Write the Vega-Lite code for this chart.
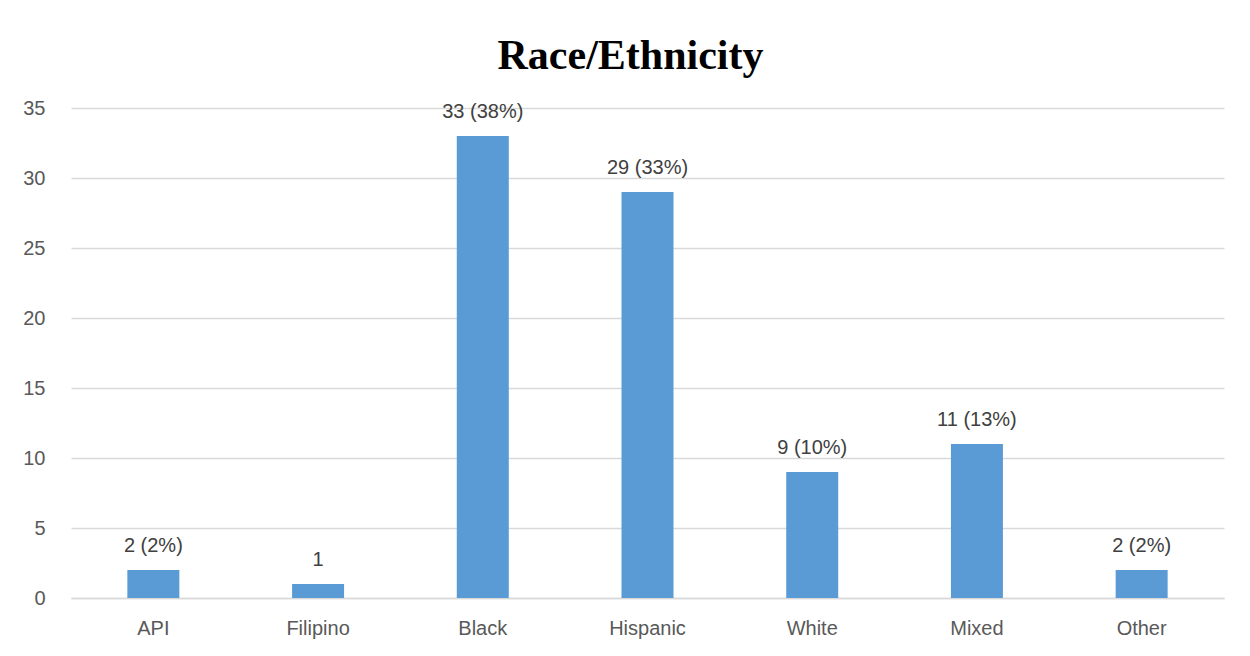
{
  "$schema": "https://vega.github.io/schema/vega-lite/v6.json",
  "autosize": "none",
  "padding": {"left": 71, "top": 108, "right": 26, "bottom": 58},
  "width": 1153,
  "height": 490,
  "background": "white",
  "title": {
    "text": "Race/Ethnicity",
    "font": "Liberation Serif",
    "fontSize": 42,
    "fontWeight": "bold",
    "color": "#000000",
    "anchor": "middle",
    "dx": -17,
    "offset": 20
  },
  "data": {
    "values": [
      {"group": "API", "count": 2, "label": "2 (2%)"},
      {"group": "Filipino", "count": 1, "label": "1"},
      {"group": "Black", "count": 33, "label": "33 (38%)"},
      {"group": "Hispanic", "count": 29, "label": "29 (33%)"},
      {"group": "White", "count": 9, "label": "9 (10%)"},
      {"group": "Mixed", "count": 11, "label": "11 (13%)"},
      {"group": "Other", "count": 2, "label": "2 (2%)"}
    ]
  },
  "encoding": {
    "x": {
      "field": "group",
      "type": "nominal",
      "sort": null,
      "scale": {"paddingInner": 0, "paddingOuter": 0},
      "axis": {
        "title": null,
        "labelAngle": 0,
        "labelFont": "Liberation Sans",
        "labelFontSize": 20,
        "labelColor": "#595959",
        "labelPadding": 20,
        "ticks": false,
        "domainColor": "#d9d9d9",
        "domainWidth": 1.5
      }
    },
    "y": {
      "field": "count",
      "type": "quantitative",
      "scale": {"domain": [0, 35], "nice": false},
      "axis": {
        "title": null,
        "values": [0, 5, 10, 15, 20, 25, 30, 35],
        "labelFont": "Liberation Sans",
        "labelFontSize": 20,
        "labelColor": "#595959",
        "labelPadding": 26,
        "ticks": false,
        "domain": false,
        "gridColor": "#d9d9d9",
        "gridWidth": 1.5
      }
    }
  },
  "layer": [
    {"mark": {"type": "bar", "size": 52, "color": "#5b9bd5"}},
    {
      "mark": {
        "type": "text",
        "baseline": "bottom",
        "dy": -14,
        "font": "Liberation Sans",
        "fontSize": 20,
        "color": "#404040"
      },
      "encoding": {"text": {"field": "label"}}
    }
  ],
  "config": {"view": {"stroke": null}}
}
